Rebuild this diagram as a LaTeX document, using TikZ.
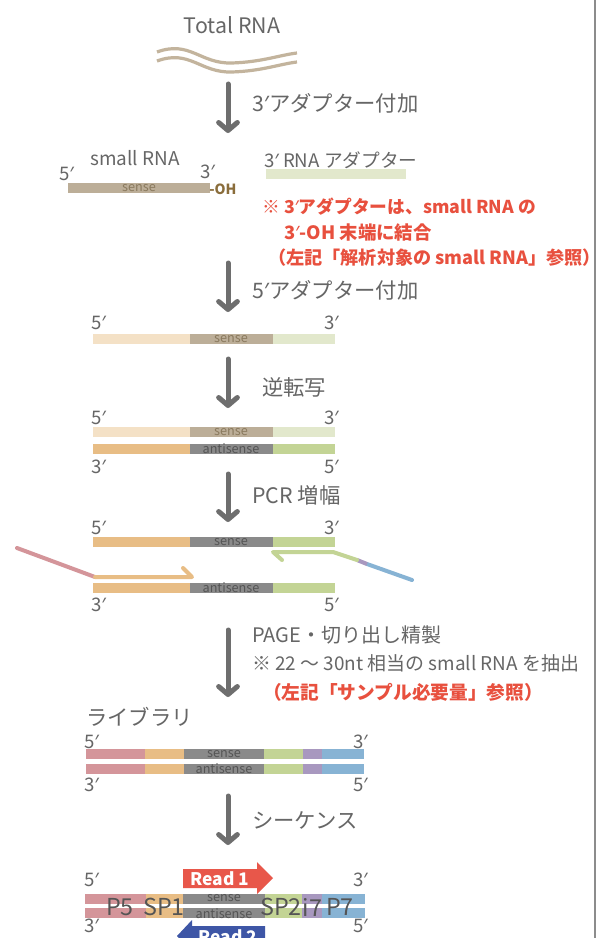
\documentclass[tikz,border=0pt]{standalone}
\usepackage{fontspec}
\setmainfont{Noto Sans CJK JP}
\newfontfamily\latinfont{Noto Sans}
\usetikzlibrary{arrows.meta}
\newcommand{\pr}{{\latinfont ′}}
\definecolor{txtgray}{HTML}{666666}
\definecolor{arrgray}{HTML}{6E6E6E}
\definecolor{redtxt}{HTML}{E8503E}
\definecolor{wave}{HTML}{C3B49D}
\definecolor{tanbar}{HTML}{BCAE98}
\definecolor{peach}{HTML}{F4E1C6}
\definecolor{lgreen}{HTML}{E2E8CC}
\definecolor{orangebar}{HTML}{E8BD85}
\definecolor{graybar}{HTML}{8A8A8A}
\definecolor{greenbar}{HTML}{C3D495}
\definecolor{pinkbar}{HTML}{D4959A}
\definecolor{purplebar}{HTML}{A898BF}
\definecolor{bluebar}{HTML}{87B3D4}
\definecolor{readred}{HTML}{E8574A}
\definecolor{readblue}{HTML}{3E56A6}
\definecolor{ohbrown}{HTML}{8A6D3B}
\definecolor{sensetan}{HTML}{8A7A5E}
\definecolor{sensegray}{HTML}{555555}
\definecolor{vline}{HTML}{8C8C8C}
\tikzset{
  steplbl/.style={anchor=west, inner sep=0pt, text=txtgray, font=\fontsize{16}{18}\selectfont},
  subtlbl/.style={anchor=west, inner sep=0pt, text=txtgray, font=\fontsize{15}{17}\selectfont},
  notelbl/.style={anchor=west, inner sep=0pt, text=redtxt, font=\fontsize{13.6}{16}\selectfont\bfseries},
  endl/.style={inner sep=0pt, text=txtgray, font=\fontsize{14}{16}\selectfont},
  sensel/.style={inner sep=0pt, font=\fontsize{9.5}{10}\selectfont},
  partl/.style={inner sep=0pt, text=sensegray, font=\fontsize{17.5}{18}\selectfont},
  readl/.style={inner sep=0pt, text=white, font=\fontsize{13}{14}\selectfont\bfseries},
  steparrow/.style={draw=arrgray, line width=3.75pt, line cap=round, -{Straight Barb[length=6pt, width=14pt, round]}},
  primer/.style={line width=3pt, line cap=round, line join=round},
}
\begin{document}
\begin{tikzpicture}[x=0.75pt, y=-0.75pt]
\useasboundingbox (0,0) rectangle (603,938);
\fill[white] (0,0) rectangle (603,938);
\draw[vline, line width=1.8pt] (595,0) -- (595,938);

% Stage 0: Total RNA
\node[inner sep=0pt, text=txtgray, font=\fontsize{16}{18}\selectfont] (total) at (232,25) {Total RNA};
\draw[wave, line width=2.4pt] (157,52) .. controls (190,40) and (200,64) .. (232,63) .. controls (262,62) and (280,55) .. (297,53);
\draw[wave, line width=2.4pt] (157,61) .. controls (190,49) and (200,73) .. (232,72) .. controls (262,71) and (280,64) .. (297,62);

% Arrow 1
\coordinate (a1s) at (228,84); \coordinate (a1e) at (228,133);
\draw[steparrow] (a1s) -- (a1e);
\node[steplbl] (l1) at (252,103) {3\pr アダプター付加};

% Stage 1
\node[inner sep=0pt, text=txtgray, font=\fontsize{14.2}{17}\selectfont] (srna) at (135,158) {small RNA};
\node[endl, anchor=west] (s1a) at (59,174) {5\pr};
\node[endl, anchor=west] (s1b) at (200,172) {3\pr};
\fill[tanbar] (68,183) rectangle (210,193);
\node[sensel, text=sensetan] (s1sense) at (139,188) {sense};
\node[inner sep=0pt, anchor=west, text=ohbrown, font=\fontsize{10.5}{12}\selectfont\bfseries] (oh) at (209,189) {-OH};
\node[anchor=west, inner sep=0pt, text=txtgray, font=\fontsize{14}{16}\selectfont] (adlbl) at (264,160) {3\pr\ RNA アダプター};
\fill[lgreen] (266,169) rectangle (406,179);
\node[notelbl, font=\fontsize{13.3}{16}\selectfont\bfseries] (n1) at (262,207) {※ 3\pr アダプターは、small RNA の};
\node[notelbl, font=\fontsize{13.8}{16}\selectfont\bfseries] (n2) at (284,233) {3\pr -OH 末端に結合};
\node[notelbl] (n3) at (268,258) {（左記「解析対象の small RNA」参照）};

% Arrow 2
\coordinate (a2s) at (228,263); \coordinate (a2e) at (228,312);
\draw[steparrow] (a2s) -- (a2e);
\node[steplbl] (l2) at (252,290) {5\pr アダプター付加};

% Stage 2
\node[endl, anchor=west] (s2a) at (91,323) {5\pr};
\node[endl, anchor=east] (s2b) at (339,323) {3\pr};
\fill[peach] (93,334) rectangle (190,344);
\fill[tanbar] (190,334) rectangle (273,344);
\fill[lgreen] (273,334) rectangle (335,344);
\node[sensel, text=sensetan] (s2sense) at (231,339) {sense};

% Arrow 3
\coordinate (a3s) at (228,359); \coordinate (a3e) at (228,408);
\draw[steparrow] (a3s) -- (a3e);
\node[steplbl] (l3) at (262,387) {逆転写};

% Stage 3
\node[endl, anchor=west] (s3a) at (91,418) {5\pr};
\node[endl, anchor=east] (s3b) at (339,418) {3\pr};
\fill[peach] (93,427) rectangle (190,437);
\fill[tanbar] (190,427) rectangle (273,437);
\fill[lgreen] (273,427) rectangle (335,437);
\node[sensel, text=sensetan] (s3sense) at (231,432) {sense};
\fill[orangebar] (93,444) rectangle (190,454);
\fill[graybar] (190,444) rectangle (273,454);
\fill[greenbar] (273,444) rectangle (335,454);
\node[sensel, text=sensegray] (s3anti) at (231,449) {antisense};
\node[endl, anchor=west] (s3c) at (91,467) {3\pr};
\node[endl, anchor=east] (s3d) at (339,467) {5\pr};

% Arrow 4
\coordinate (a4s) at (228,474); \coordinate (a4e) at (228,522);
\draw[steparrow] (a4s) -- (a4e);
\node[steplbl] (l4) at (252,495) {PCR 増幅};

% Stage 4
\node[endl, anchor=west] (s4a) at (91,528) {5\pr};
\node[endl, anchor=east] (s4b) at (339,528) {3\pr};
\fill[orangebar] (93,537) rectangle (190,547);
\fill[graybar] (190,537) rectangle (273,547);
\fill[greenbar] (273,537) rectangle (335,547);
\node[sensel, text=sensegray] (s4sense) at (231,542) {sense};
\fill[orangebar] (93,583) rectangle (190,593);
\fill[graybar] (190,583) rectangle (273,593);
\fill[greenbar] (273,583) rectangle (335,593);
\node[sensel, text=sensegray] (s4anti) at (231,588) {antisense};
\node[endl, anchor=west] (s4c) at (91,605) {3\pr};
\node[endl, anchor=east] (s4d) at (339,605) {5\pr};
% forward primer
\coordinate (p1a) at (17,548); \coordinate (p1b) at (95,577);
\coordinate (p1c) at (192,577); \coordinate (p1d) at (183,568);
\draw[primer, pinkbar] (p1a) -- (p1b);
\draw[primer, orangebar] (p1b) -- (p1c) -- (p1d);
% reverse primer
\coordinate (p2a) at (412,580); \coordinate (p2b) at (367,564);
\coordinate (p2c) at (357,560); \coordinate (p2d) at (333,552);
\coordinate (p2e) at (273,552); \coordinate (p2f) at (282,560);
\draw[primer, bluebar] (p2a) -- (p2b);
\draw[primer, purplebar, line cap=butt] (p2b) -- (p2c);
\draw[primer, greenbar] (p2c) -- (p2d) -- (p2e) -- (p2f);

% Arrow 5
\coordinate (a5s) at (228,630); \coordinate (a5e) at (228,697);
\draw[steparrow] (a5s) -- (a5e);
\node[subtlbl] (l5a) at (252,635) {PAGE・切り出し精製};
\node[subtlbl, font=\fontsize{14.2}{17}\selectfont] (l5b) at (252,663) {※ 22 〜 30nt 相当の small RNA を抽出};
\node[notelbl, font=\fontsize{14}{16}\selectfont\bfseries] (l5c) at (263,692) {（左記「サンプル必要量」参照）};

% Stage 5: library
\node[steplbl] (lib) at (86,717) {ライブラリ};
\node[endl, anchor=west] (s5a) at (84,742) {5\pr};
\node[endl, anchor=east] (s5b) at (368,742) {3\pr};
\foreach \y in {749,764}{
  \fill[pinkbar] (86,\y) rectangle (145,\y+10);
  \fill[orangebar] (145,\y) rectangle (184,\y+10);
  \fill[graybar] (184,\y) rectangle (264,\y+10);
  \fill[greenbar] (264,\y) rectangle (303,\y+10);
  \fill[purplebar] (303,\y) rectangle (322,\y+10);
  \fill[bluebar] (322,\y) rectangle (364,\y+10);
}
\node[sensel, text=sensegray] (s5sense) at (224,754) {sense};
\node[sensel, text=sensegray] (s5anti) at (224,769) {antisense};
\node[endl, anchor=west] (s5c) at (84,785) {3\pr};
\node[endl, anchor=east] (s5d) at (368,785) {5\pr};

% Arrow 6
\coordinate (a6s) at (228,796); \coordinate (a6e) at (228,845);
\draw[steparrow] (a6s) -- (a6e);
\node[steplbl] (l6) at (252,820) {シーケンス};

% Stage 6: sequencing
\fill[readred] (183,869) -- (257,869) -- (257,862) -- (273,878) -- (257,894) -- (257,888) -- (183,888) -- cycle;
\node[readl] (r1) at (220,878.5) {Read 1};
\node[endl, anchor=west] (s6a) at (84,880) {5\pr};
\node[endl, anchor=east] (s6b) at (368,880) {3\pr};
\foreach \y in {894,908}{
  \fill[pinkbar] (85,\y) rectangle (146,\y+10);
  \fill[orangebar] (146,\y) rectangle (183,\y+10);
  \fill[graybar] (183,\y) rectangle (265,\y+10);
  \fill[greenbar] (265,\y) rectangle (302,\y+10);
  \fill[purplebar] (302,\y) rectangle (322,\y+10);
  \fill[bluebar] (322,\y) rectangle (365,\y+10);
}
\node[sensel, text=sensegray] (s6sense) at (224,898.5) {sense};
\node[sensel, text=sensegray] (s6anti) at (224,913.5) {antisense};
\node[partl] (p5) at (120,907) {P5};
\node[partl] (sp1) at (164,907) {SP1};
\node[partl, anchor=east] (sp2) at (302,907) {SP2};
\node[partl, anchor=west] (i7) at (302.5,907) {i7};
\node[partl] (p7) at (340,907) {P7};
\node[endl, anchor=west] (s6c) at (84,926) {3\pr};
\node[endl, anchor=east] (s6d) at (368,926) {5\pr};
\fill[readblue] (265,926) -- (192,926) -- (192,920) -- (177,936) -- (192,952) -- (192,946) -- (265,946) -- cycle;
\node[readl] (r2) at (228,936.5) {Read 2};
\end{tikzpicture}
\end{document}
